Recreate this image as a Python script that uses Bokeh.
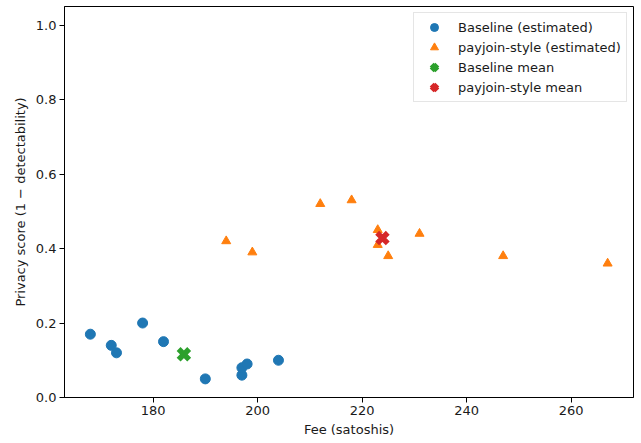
import numpy as np
from bokeh.plotting import figure
from bokeh.models import Range1d, FixedTicker, PrintfTickFormatter
from bokeh.embed import file_html
from bokeh.resources import INLINE

# Data
base_fee = [168, 172, 173, 178, 182, 190, 197, 197, 198, 204]
base_priv = [0.17, 0.14, 0.12, 0.20, 0.15, 0.05, 0.06, 0.08, 0.09, 0.10]
pj_fee = [194, 199, 212, 218, 223, 223, 225, 231, 247, 267]
pj_priv = [0.42, 0.39, 0.52, 0.53, 0.45, 0.41, 0.38, 0.44, 0.38, 0.36]
x_ticks = [180, 200, 220, 240, 260]
y_ticks = [0.0, 0.2, 0.4, 0.6, 0.8, 1.0]

base_mean_fee = [float(np.mean(base_fee))]
base_mean_priv = [float(np.mean(base_priv))]
pj_mean_fee = [float(np.mean(pj_fee))]
pj_mean_priv = [float(np.mean(pj_priv))]

all_fee = base_fee + pj_fee
lo, hi = min(all_fee), max(all_fee)
pad = 0.05 * (hi - lo)

FONT = "DejaVu Sans"
TXT = "#1a1a1a"

p = figure(width=641, height=443, output_backend="svg", toolbar_location=None,
           x_range=Range1d(lo - pad, hi + pad), y_range=Range1d(0.0, 1.05),
           min_border_left=64, min_border_right=8, min_border_top=6, min_border_bottom=46)

p.xgrid.visible = False
p.ygrid.visible = False
p.outline_line_color = "black"
p.outline_line_alpha = 1.0
p.outline_line_width = 1
p.background_fill_color = "white"
p.border_fill_color = "white"

p.scatter(base_fee, base_priv, marker="circle", size=10, color="#1f77b4",
          legend_label="Baseline (estimated)")
p.scatter(pj_fee, pj_priv, marker="triangle", size=9, color="#ff7f0e",
          legend_label="payjoin-style (estimated)")
p.scatter(base_mean_fee, base_mean_priv, marker="x", size=15, line_width=5.5,
          color="#2ca02c", legend_label="Baseline mean")
p.scatter(pj_mean_fee, pj_mean_priv, marker="x", size=15, line_width=5.5,
          color="#d62728", legend_label="payjoin-style mean")

for ax in (p.xaxis[0], p.yaxis[0]):
    ax.axis_line_color = "black"
    ax.major_tick_line_color = "black"
    ax.major_tick_out = 5
    ax.major_tick_in = 0
    ax.minor_tick_line_color = None
    ax.major_label_text_font = FONT
    ax.major_label_text_font_size = "13px"
    ax.major_label_text_color = TXT
    ax.axis_label_text_font = FONT
    ax.axis_label_text_font_size = "13px"
    ax.axis_label_text_font_style = "normal"
    ax.axis_label_text_color = TXT
    ax.major_label_standoff = 3

p.xaxis.ticker = FixedTicker(ticks=x_ticks)
p.yaxis.ticker = FixedTicker(ticks=y_ticks)
p.yaxis.formatter = PrintfTickFormatter(format="%.1f")
p.xaxis.axis_label = "Fee (satoshis)"
p.yaxis.axis_label = "Privacy score (1 \u2212 detectability)"
p.xaxis.axis_label_standoff = 4
p.yaxis.axis_label_standoff = 5

lg = p.legend[0]
lg.location = "top_right"
lg.margin = 6
lg.padding = 4
lg.spacing = 0
lg.glyph_width = 32
lg.glyph_height = 20
lg.label_height = 20
lg.label_standoff = 8
lg.label_width = 164
lg.label_text_font = FONT
lg.label_text_font_size = "13px"
lg.label_text_color = TXT
lg.border_line_color = "#cccccc"
lg.border_line_width = 1
lg.background_fill_alpha = 0.8

open("out.html", "w").write(file_html(p, INLINE))
